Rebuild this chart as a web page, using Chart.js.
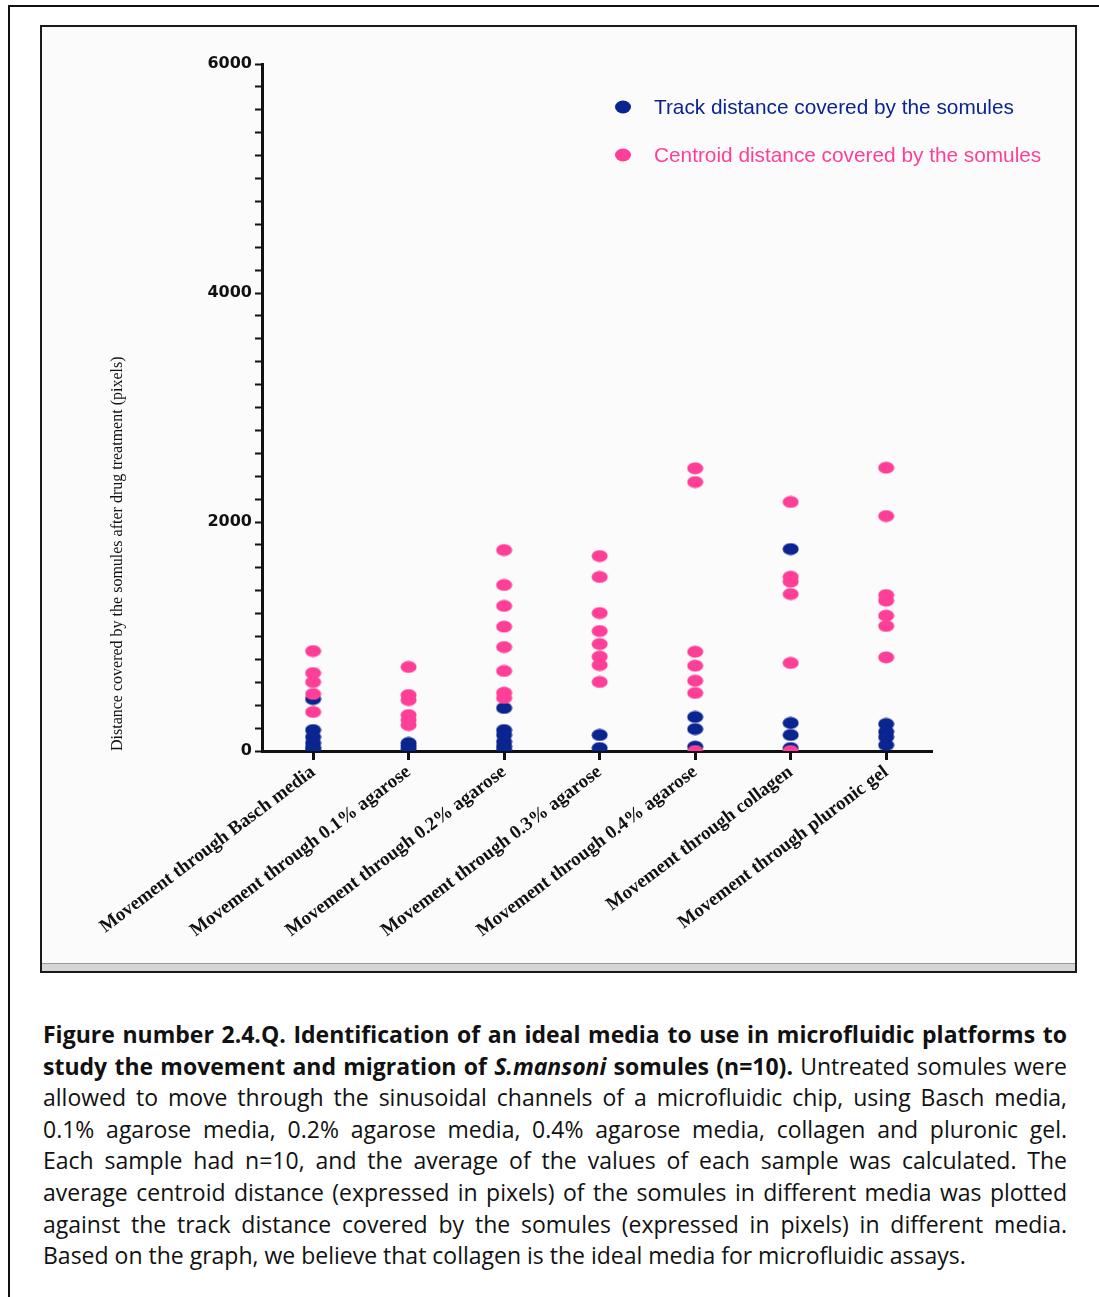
<!DOCTYPE html>
<html>
<head>
<meta charset="utf-8">
<script src="https://cdn.jsdelivr.net/npm/chart.js@4"></script>
<style>
  body { margin: 0; background: #fff; width: 1099px; height: 1297px; position: relative; overflow: hidden; }
  .outer { position: absolute; left: 8px; top: 5px; width: 1200px; height: 1400px; border-left: 2px solid #111; border-top: 2px solid #111; }
  .frame { position: absolute; left: 40px; top: 25px; width: 1033px; height: 944px; border: 2px solid #1a1a1a; background: #fbfbfb; }
  .frame .shade { position: absolute; left: 0; right: 0; bottom: 0; height: 7px; background: #d6d6d6; border-top: 1px solid #999; }
  #chart { position: absolute; left: 0; top: 0; }
  .caption { position: absolute; left: 43px; top: 1019px; width: 1024px; font-family: "Open Sans", sans-serif; font-size: 23px; line-height: 31.6px; color: #111; }
  .caption div { white-space: nowrap; text-align: justify; text-align-last: justify; }
  .caption div.last { text-align-last: left; }
  .caption b { font-weight: 700; }
</style>
</head>
<body>
<div class="outer"></div>
<div class="frame">
  <canvas id="chart" width="1033" height="938"></canvas>
  <div class="shade"></div>
</div>
<div class="caption">
  <div><b>Figure number 2.4.Q. Identification of an ideal media to use in microfluidic platforms to</b></div>
  <div><b>study the movement and migration of <i>S.mansoni</i> somules (n=10).</b> Untreated somules were</div>
  <div>allowed to move through the sinusoidal channels of a microfluidic chip, using Basch media,</div>
  <div>0.1% agarose media, 0.2% agarose media, 0.4% agarose media, collagen and pluronic gel.</div>
  <div>Each sample had n=10, and the average of the values of each sample was calculated. The</div>
  <div>average centroid distance (expressed in pixels) of the somules in different media was plotted</div>
  <div>against the track distance covered by the somules (expressed in pixels) in different media.</div>
  <div class="last">Based on the graph, we believe that collagen is the ideal media for microfluidic assays.</div>
</div>
<script>
const categories = [
  'Movement through Basch media',
  'Movement through 0.1% agarose',
  'Movement through 0.2% agarose',
  'Movement through 0.3% agarose',
  'Movement through 0.4% agarose',
  'Movement through collagen',
  'Movement through pluronic gel'
];

// track distance (blue), per category
const trackDistance = [
  [454, 183, 122, 70, 30, 9],
  [70, 44, 17],
  [376, 183, 140, 81, 40, 9],
  [140, 26],
  [297, 192, 38],
  [1764, 245, 140, 26],
  [236, 169, 122, 52]
];

// centroid distance (pink), per category
const centroidDistance = [
  [873, 681, 603, 498, 341],
  [734, 489, 445, 314, 271, 227],
  [1755, 1450, 1267, 1086, 908, 699, 509, 463],
  [1703, 1520, 1205, 1048, 934, 824, 751, 603],
  [2469, 2349, 867, 745, 614, 507, 0],
  [2175, 1522, 1479, 1371, 769, 0],
  [2474, 2052, 1362, 1313, 1182, 1092, 818]
];

const yTicks = [0, 2000, 4000, 6000];
const seriesNames = ['Track distance covered by the somules', 'Centroid distance covered by the somules'];
const blue = '#0b2590';
const pink = '#ff3f97';

// shrink a caption line if it would overflow the column
document.querySelectorAll('.caption div').forEach(function(line) {
  const w = line.scrollWidth;
  if (w > 1024) line.style.fontSize = (23 * 1024 / w - 0.1) + 'px';
});

function toPoints(groups) {
  const pts = [];
  groups.forEach(function(vals, i) {
    vals.forEach(function(v) { pts.push({ x: i, y: v }); });
  });
  return pts;
}

// oval dot like the original plot
function ovalDot(color) {
  const c = document.createElement('canvas');
  c.width = 17; c.height = 13;
  const g = c.getContext('2d');
  g.fillStyle = color;
  g.beginPath();
  g.ellipse(8.5, 6.5, 8, 6, 0, 0, Math.PI * 2);
  g.fill();
  return c;
}

const legendPlugin = {
  id: 'sideLegend',
  afterDraw: function(chart) {
    const ctx = chart.ctx;
    const items = [
      { text: seriesNames[0], color: blue, y: 80 },
      { text: seriesNames[1], color: pink, y: 128 }
    ];
    ctx.save();
    ctx.font = '20.8px "Liberation Sans", Arial, sans-serif';
    ctx.textBaseline = 'middle';
    items.forEach(function(it) {
      ctx.fillStyle = it.color;
      ctx.beginPath();
      ctx.ellipse(581, it.y, 8, 6.5, 0, 0, Math.PI * 2);
      ctx.fill();
      ctx.fillText(it.text, 612, it.y + 1);
    });
    ctx.restore();
  }
};

new Chart(document.getElementById('chart'), {
  type: 'scatter',
  data: {
    datasets: [
      {
        label: seriesNames[0],
        data: toPoints(trackDistance),
        pointStyle: ovalDot(blue),
        backgroundColor: blue,
        borderColor: blue,
        order: 1
      },
      {
        label: seriesNames[1],
        data: toPoints(centroidDistance),
        pointStyle: ovalDot(pink),
        backgroundColor: pink,
        borderColor: pink,
        order: 0
      }
    ]
  },
  options: {
    responsive: false,
    animation: false,
    layout: { padding: { left: 0, top: 37, right: 143, bottom: 0 } },
    plugins: {
      legend: { display: false },
      tooltip: { enabled: false }
    },
    scales: {
      x: {
        type: 'linear',
        min: -0.535,
        max: 6.48,
        grid: { display: true, drawOnChartArea: false, tickLength: 9, tickWidth: 3, tickColor: '#111' },
        border: { display: true, width: 3, color: '#111' },
        afterBuildTicks: function(scale) {
          scale.ticks = categories.map(function(c, i) { return { value: i }; });
        },
        ticks: {
          autoSkip: false,
          minRotation: 37,
          maxRotation: 37,
          padding: 1,
          color: '#111',
          font: { family: '"Liberation Serif", "Times New Roman", serif', size: 19, weight: 'bold' },
          callback: function(v) { return categories[v]; }
        },
        afterFit: function(scale) { scale.height = 214; }
      },
      y: {
        min: 0,
        max: 6000,
        grid: { display: true, drawOnChartArea: false, tickLength: 7, tickWidth: 2, tickColor: '#111' },
        border: { display: true, width: 3, color: '#111' },
        ticks: {
          stepSize: 200,
          autoSkip: false,
          padding: 3,
          color: '#111',
          font: { family: '"DejaVu Sans", sans-serif', size: 16, weight: 'bold' },
          callback: function(v) { return yTicks.indexOf(v) >= 0 ? v : ''; }
        },
        title: {
          display: true,
          text: 'Distance covered by the somules after drug treatment (pixels)',
          align: 'start',
          color: '#111',
          padding: { top: 66 },
          font: { family: '"Liberation Serif", "Times New Roman", serif', size: 16 }
        },
        afterFit: function(scale) { scale.width = 220; }
      }
    }
  },
  plugins: [legendPlugin]
});
</script>
</body>
</html>
